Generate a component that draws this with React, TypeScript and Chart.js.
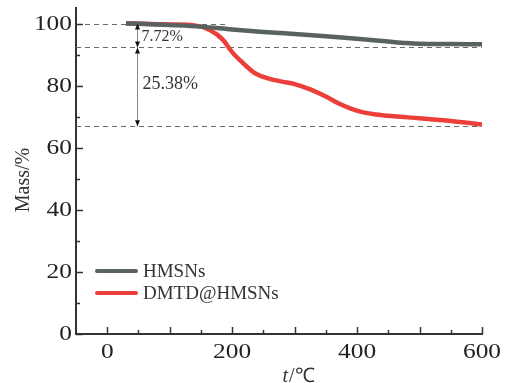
import React, { useEffect, useRef } from "react";
import { Chart, registerables } from "chart.js";

Chart.register(...registerables);

const tempHMSNs = [30, 50, 100, 150, 200, 250, 300, 350, 400, 450, 480, 500, 550, 600];
const massHMSNs = [100, 99.9, 99.5, 99.0, 98.1, 97.3, 96.6, 95.9, 95.1, 94.2, 93.7, 93.5, 93.4, 93.3];

const tempDMTD = [30, 60, 100, 140, 165, 185, 200, 215, 235, 260, 280, 300, 325, 350, 370, 390, 410, 430, 460, 500, 550, 600];
const massDMTD = [100, 99.9, 99.7, 99.4, 97.8, 94.8, 90.8, 87.7, 84.2, 82.2, 81.3, 80.5, 78.8, 76.5, 74.3, 72.6, 71.4, 70.7, 70.1, 69.5, 68.6, 67.5];

const seriesLabels = ["HMSNs", "DMTD@HMSNs"];
const seriesColors = ["#596161", "#ec3f3a"];

const xTickLabels = [0, 200, 400, 600];
const yTickLabels = [0, 20, 40, 60, 80, 100];

const refLevels = [100, 92.28, 66.9];
const refTopEnd = 195;
const arrowX = 48;
const lossLabels = ["7.72%", "25.38%"];

const FONT = "'Liberation Serif', 'Times New Roman', serif";

const decorPlugin = {
  id: "decor",
  beforeDatasetsDraw(chart: any) {
    const { ctx, scales } = chart;
    const x = scales.x, y = scales.y;
    ctx.save();
    ctx.strokeStyle = "#6a6a6a";
    ctx.lineWidth = 1;
    ctx.setLineDash([5, 4]);
    refLevels.forEach((lv, i) => {
      const py = Math.round(y.getPixelForValue(lv)) + 0.5;
      ctx.beginPath();
      ctx.moveTo(x.left, py);
      ctx.lineTo(x.getPixelForValue(i === 0 ? refTopEnd : 600), py);
      ctx.stroke();
    });
    ctx.restore();
  },
  afterDatasetsDraw(chart: any) {
    const { ctx, scales } = chart;
    const x = scales.x, y = scales.y;
    ctx.save();
    const ax = Math.round(x.getPixelForValue(arrowX)) + 0.5;
    const p0 = y.getPixelForValue(refLevels[0]);
    const p1 = y.getPixelForValue(refLevels[1]);
    const p2 = y.getPixelForValue(refLevels[2]);
    ctx.strokeStyle = "#888";
    ctx.lineWidth = 1;
    ctx.beginPath();
    ctx.moveTo(ax, p0);
    ctx.lineTo(ax, p2);
    ctx.stroke();
    const head = (py: number, dir: number) => {
      ctx.fillStyle = "#111";
      ctx.beginPath();
      ctx.moveTo(ax, py);
      ctx.lineTo(ax - 2.5, py - dir * 6);
      ctx.lineTo(ax + 2.5, py - dir * 6);
      ctx.closePath();
      ctx.fill();
    };
    head(p0, -1);
    head(p1, 1);
    head(p1, -1);
    head(p2, 1);
    ctx.fillStyle = "#333";
    ctx.textBaseline = "middle";
    ctx.textAlign = "left";
    ctx.font = `16px ${FONT}`;
    ctx.fillText(lossLabels[0], ax + 4, (p0 + p1) / 2 + 1);
    ctx.font = `18px ${FONT}`;
    ctx.fillText(lossLabels[1], ax + 5, y.getPixelForValue(80.4));
    ctx.restore();
  },
  afterDraw(chart: any) {
    const { ctx, scales } = chart;
    const x = scales.x, y = scales.y;
    ctx.save();
    ctx.strokeStyle = "#333";
    ctx.lineWidth = 1.5;
    for (let v = 0; v <= 100; v += 10) {
      const py = Math.round(y.getPixelForValue(v)) + 0.5;
      const len = v % 20 === 0 ? 7 : 4;
      ctx.beginPath();
      ctx.moveTo(x.left, py);
      ctx.lineTo(x.left + len, py);
      ctx.stroke();
    }
    for (let v = 0; v <= 600; v += 50) {
      const px = Math.round(x.getPixelForValue(v)) + 0.5;
      const len = v % 100 === 0 ? 7 : 4;
      ctx.beginPath();
      ctx.moveTo(px, y.bottom);
      ctx.lineTo(px, y.bottom - len);
      ctx.stroke();
    }
    ctx.fillStyle = "#222";
    ctx.font = `20px ${FONT}`;
    const sx = 1.27;
    ctx.textBaseline = "middle";
    ctx.textAlign = "right";
    yTickLabels.forEach((v) => {
      const py = y.getPixelForValue(v);
      ctx.save();
      ctx.translate(x.left - 4, py + 1);
      ctx.scale(sx, 1);
      ctx.fillText(String(v), 0, 0);
      ctx.restore();
    });
    ctx.textAlign = "center";
    ctx.textBaseline = "alphabetic";
    xTickLabels.forEach((v) => {
      const px = x.getPixelForValue(v);
      ctx.save();
      ctx.translate(px, 358);
      ctx.scale(sx, 1);
      ctx.fillText(String(v), 0, 0);
      ctx.restore();
    });
    ctx.fillStyle = "#333";
    ctx.font = `20px ${FONT}`;
    ctx.save();
    ctx.translate(24, 180);
    ctx.rotate(-Math.PI / 2);
    ctx.textAlign = "center";
    ctx.textBaseline = "middle";
    ctx.fillText("Mass/%", 0, 0);
    ctx.restore();
    ctx.textAlign = "left";
    ctx.textBaseline = "alphabetic";
    ctx.font = `italic 20px ${FONT}`;
    const tW = ctx.measureText("t").width;
    ctx.font = `20px ${FONT}`;
    const restW = ctx.measureText("/℃").width;
    const startX = 298 - (tW + restW) / 2;
    ctx.font = `italic 20px ${FONT}`;
    ctx.fillText("t", startX, 382);
    ctx.font = `20px ${FONT}`;
    ctx.fillText("/℃", startX + tW + 1, 382);
    const legendY = [271, 293];
    seriesLabels.forEach((lab, i) => {
      ctx.strokeStyle = seriesColors[i];
      ctx.lineWidth = 4;
      ctx.lineCap = "round";
      ctx.beginPath();
      ctx.moveTo(97, legendY[i]);
      ctx.lineTo(136, legendY[i]);
      ctx.stroke();
      ctx.fillStyle = "#333";
      ctx.font = `19px ${FONT}`;
      ctx.textBaseline = "middle";
      ctx.fillText(lab, 143, legendY[i] + 1);
    });
    ctx.restore();
  },
};

export default function App() {
  const ref = useRef<HTMLCanvasElement | null>(null);
  useEffect(() => {
    if (!ref.current) return;
    const chart = new Chart(ref.current, {
      type: "line",
      data: {
        datasets: [
          {
            label: seriesLabels[0],
            data: tempHMSNs.map((t, i) => ({ x: t, y: massHMSNs[i] })),
            borderColor: seriesColors[0],
            borderWidth: 4.5,
            pointRadius: 0,
            cubicInterpolationMode: "monotone",
            fill: false,
          },
          {
            label: seriesLabels[1],
            data: tempDMTD.map((t, i) => ({ x: t, y: massDMTD[i] })),
            borderColor: seriesColors[1],
            borderWidth: 4.5,
            pointRadius: 0,
            cubicInterpolationMode: "monotone",
            fill: false,
          },
        ],
      },
      options: {
        animation: false,
        responsive: false,
        devicePixelRatio: 1,
        layout: { padding: { left: 0, right: 25, top: 8, bottom: 0 } },
        plugins: { legend: { display: false }, tooltip: { enabled: false } },
        scales: {
          x: {
            type: "linear",
            min: -50,
            max: 600,
            grid: { display: false, drawTicks: false },
            border: { display: true, color: "#333", width: 2 },
            ticks: { display: false },
            afterFit: (s: any) => { s.height = 49; },
          },
          y: {
            type: "linear",
            min: 0,
            max: 105,
            grid: { display: false, drawTicks: false },
            border: { display: true, color: "#333", width: 2 },
            ticks: { display: false },
            afterFit: (s: any) => { s.width = 76; },
          },
        },
      },
      plugins: [decorPlugin],
    });
    return () => chart.destroy();
  }, []);
  return (
    <canvas
      ref={ref}
      width={507}
      height={383}
      style={{ position: "absolute", left: 0, top: 0, width: 507, height: 383 }}
    />
  );
}
